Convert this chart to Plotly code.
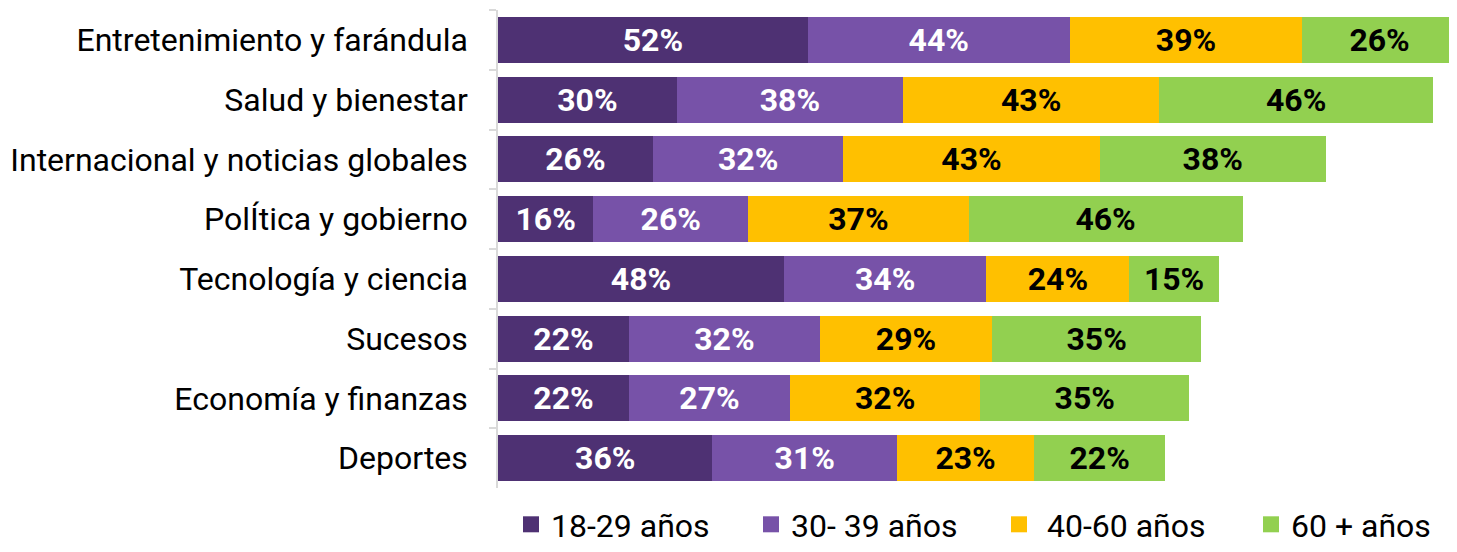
import plotly.graph_objects as go

categories = ["Entretenimiento y farándula", "Salud y bienestar", "Internacional y noticias globales",
              "PolÍtica y gobierno", "Tecnología y ciencia", "Sucesos", "Economía y finanzas", "Deportes"]
series_names = ["18-29 años", "30- 39 años", " 40-60 años", "60 + años"]
v_18_29 = [52, 30, 26, 16, 48, 22, 22, 36]
v_30_39 = [44, 38, 32, 26, 34, 32, 27, 31]
v_40_60 = [39, 43, 43, 37, 24, 29, 32, 23]
v_60p = [26, 46, 38, 46, 15, 35, 35, 22]
colors = ["#4E3173", "#7752A8", "#FFC000", "#92D050"]
text_colors = ["white", "white", "black", "black"]

# figure is drawn inside the page body (8px default margin) -> compensate
W, H = 1449, 544
legend_x_px = [503, 743, 991, 1243]
legend_ids = ["legend", "legend2", "legend3", "legend4"]

fig = go.Figure()
for name, vals, c, tc in zip(series_names, [v_18_29, v_30_39, v_40_60, v_60p], colors, text_colors):
    fig.add_trace(go.Bar(
        y=categories, x=vals, name=name, orientation="h",
        marker=dict(color=c, line=dict(width=0)),
        text=[f"{v}%" for v in vals], textposition="inside", insidetextanchor="middle",
        textangle=0,
        textfont=dict(family="Roboto", size=32, color=tc, weight="bold"),
        constraintext="none", showlegend=False,
    ))
# legend entries (square markers), one legend each so they can be placed freely
for name, c, lid in zip(series_names, colors, legend_ids):
    fig.add_trace(go.Scatter(x=[None], y=[None], mode="markers", name=name, legend=lid,
                             marker=dict(symbol="square", size=18, color=c), showlegend=True))

legend_layouts = {}
for lid, lx in zip(legend_ids, legend_x_px):
    legend_layouts[lid] = dict(orientation="h", xref="container", yref="container",
                               x=lx / W, xanchor="left", y=0, yanchor="bottom",
                               font=dict(family="Roboto", size=32, color="black"),
                               bgcolor="rgba(0,0,0,0)")

fig.update_layout(
    barmode="stack", bargap=0.23,
    width=W, height=H,
    margin=dict(l=490, r=0, t=2, b=64),
    plot_bgcolor="white", paper_bgcolor="white",
    font=dict(family="Roboto", size=32, color="black"),
    uniformtext=dict(mode=False),
    showlegend=True,
    **legend_layouts,
)
fig.update_xaxes(range=[0, 161], visible=False, showgrid=False, zeroline=False, fixedrange=True)
fig.update_yaxes(categoryorder="array", categoryarray=categories, autorange="reversed",
                 showline=True, linecolor="#D9D9D9", linewidth=1.5,
                 ticks="outside", ticklen=7, tickcolor="#D9D9D9", tickwidth=1.5,
                 tickson="boundaries", ticklabelstandoff=22, automargin=False,
                 tickfont=dict(family="Roboto", size=32, color="black"), showgrid=False)

fig.write_html("out.html")
